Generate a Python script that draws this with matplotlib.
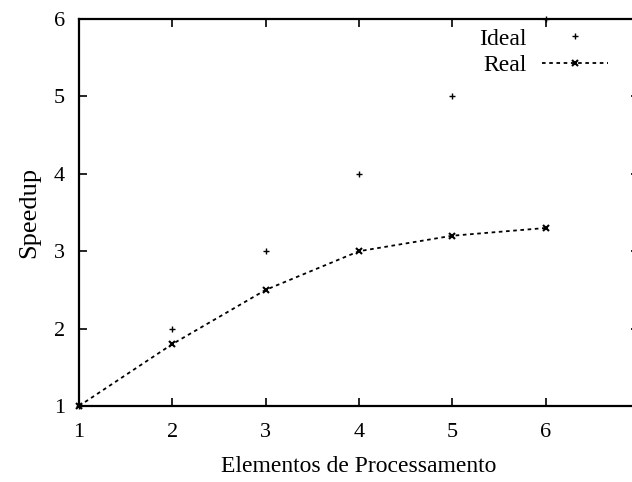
import matplotlib
matplotlib.use("Agg")
from matplotlib import pyplot as plt

# data
elementos = [1, 2, 3, 4, 5, 6]
ideal = [1, 2, 3, 4, 5, 6]
real = [1, 1.8, 2.5, 3.0, 3.2, 3.3]

plt.rcParams['font.family'] = ['Liberation Serif', 'DejaVu Serif']

fig = plt.figure(figsize=(6.32, 4.82), dpi=100)
# right edge of the plot box lies just outside the picture
ax = fig.add_axes([79 / 632, 1 - 406 / 482, (639 - 79) / 632, (406 - 19) / 482])

ax.plot(elementos, ideal, linestyle='none', marker='+', color='black',
        markersize=5, markeredgewidth=1.0, label='Ideal', clip_on=False)
ax.plot(elementos, real, linestyle=(0, (2, 2)), color='black', linewidth=1.3,
        marker='x', markersize=5, markeredgewidth=1.5, label='Real', clip_on=False)

ax.set_xlim(1, 7)
ax.set_ylim(1, 6)
ax.set_xticks(range(1, 8))
ax.set_yticks(range(1, 7))
ax.tick_params(direction='in', length=6, width=1.2, top=True, right=True,
               labelsize=16, pad=10)
ax.tick_params(axis='x', pad=12)
for s in ax.spines.values():
    s.set_linewidth(1.6)

ax.set_xlabel('Elementos de Processamento', fontsize=17, labelpad=10)
ax.set_ylabel('Speedup', fontsize=19, labelpad=10)

ax.legend(loc='upper right', bbox_to_anchor=(608 / 632, 1 - 28 / 482),
          bbox_transform=fig.transFigure, frameon=False, markerfirst=False,
          fontsize=17, handlelength=2.8, handletextpad=0.65, labelspacing=0.2,
          borderpad=0, borderaxespad=0)

fig.savefig('out.png', dpi=100)
